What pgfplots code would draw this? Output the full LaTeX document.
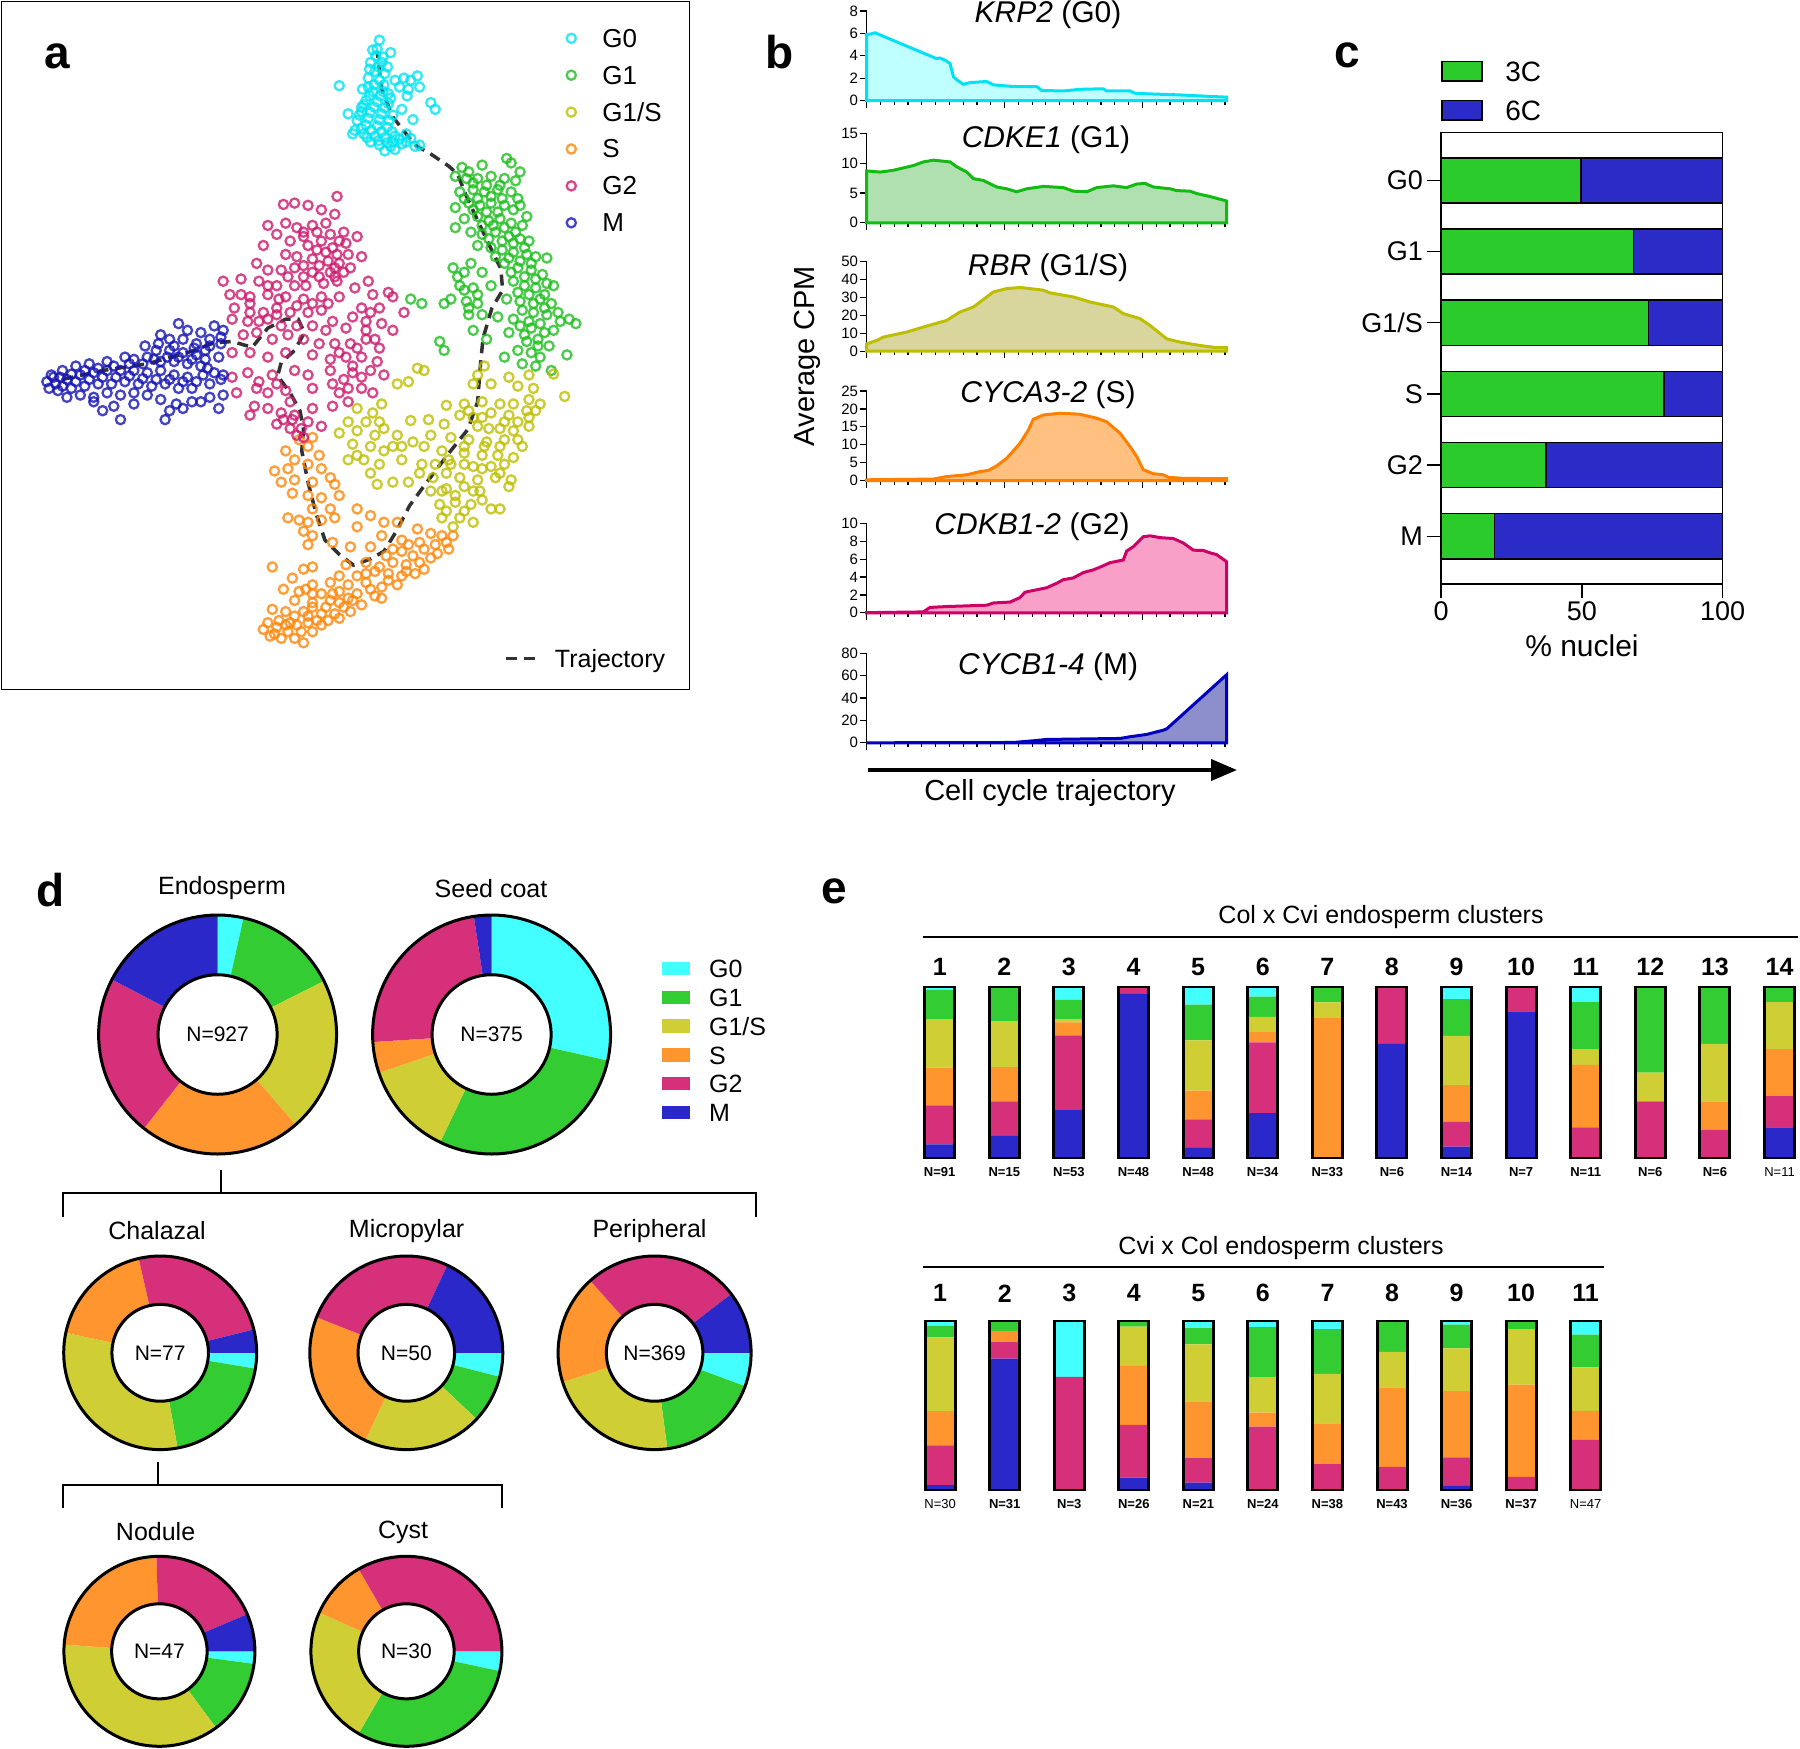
\documentclass[border=0pt]{standalone}
\usepackage{fontspec}
\setmainfont{Liberation Sans}
\usepackage{pgfplots}
\pgfplotsset{compat=1.18}
\usetikzlibrary{arrows.meta}
\newcommand\fs[1]{\fontsize{#1}{#1}\selectfont}
\definecolor{aG0}{RGB}{0,228,240}
\definecolor{aG1}{RGB}{30,190,30}
\definecolor{aGS}{RGB}{190,190,0}
\definecolor{aS}{RGB}{255,135,10}
\definecolor{aG2}{RGB}{205,25,110}
\definecolor{aM}{RGB}{20,20,180}
\definecolor{traj}{RGB}{50,50,50}
\definecolor{dG0}{RGB}{68,255,255}
\definecolor{dG1}{RGB}{51,204,51}
\definecolor{dGS}{RGB}{207,207,53}
\definecolor{dS}{RGB}{255,149,46}
\definecolor{dG2}{RGB}{214,48,122}
\definecolor{dM}{RGB}{42,40,200}
\definecolor{cGr}{RGB}{43,203,43}
\definecolor{cBl}{RGB}{43,43,200}
\definecolor{l1}{RGB}{0,225,245}\definecolor{f1}{RGB}{192,255,255}
\definecolor{l2}{RGB}{17,187,17}\definecolor{f2}{RGB}{176,224,176}
\definecolor{l3}{RGB}{190,190,0}\definecolor{f3}{RGB}{216,214,156}
\definecolor{l4}{RGB}{255,128,0}\definecolor{f4}{RGB}{255,192,128}
\definecolor{l5}{RGB}{204,0,102}\definecolor{f5}{RGB}{248,160,200}
\definecolor{l6}{RGB}{0,0,190}\definecolor{f6}{RGB}{140,143,204}
\pgfplotsset{
 /pgf/number format/assume math mode=true,
 bax/.style={anchor=north west, scale only axis, width=360pt, height=89.5pt, xmin=0, xmax=261.2, ymin=0,
  axis x line*=bottom, axis y line*=left, axis line style={line width=1.3pt},
  every outer x axis line/.append style={-}, every outer y axis line/.append style={-},
  tick style={line width=1.2pt, black}, tick align=outside, xtick={0,100,200},
  minor xtick={10,20,...,260}, xticklabels={}, major tick length=7pt, minor tick length=4pt,
  yticklabel style={font=\fs{15}, inner sep=1.5pt}, clip=false},
 donut/.style={anchor=center, scale only axis, hide axis, xmin=-1, xmax=1, ymin=-1, ymax=1, clip=false},
 sc/.style={only marks, mark=o, mark size=4.6pt, line width=2.3pt, opacity=0.8},
 eax/.style={anchor=north west, scale only axis, ymin=0, ymax=100, axis line style={draw=none}, ytick=\empty, major tick length=0pt},
}
\newcommand\wdg[3]{\addplot[fill=#1, draw=none, domain=#2:#3, samples=60] ({sin(x)},{cos(x)}) -- (axis cs:0,0) -- cycle;}
\newcommand\hole{\addplot[forget plot, fill=white, draw=black, line width=3pt, domain=0:360, samples=121] ({0.5*sin(x)},{0.5*cos(x)}) -- cycle;
\addplot[forget plot, draw=black, line width=3pt, domain=0:360, samples=121] ({sin(x)},{cos(x)}) -- cycle;}
\begin{document}
\begin{tikzpicture}[x=1pt,y=1pt]
\path[use as bounding box] (0,0) rectangle (1800,-1749);
% ================= panel a
\begin{axis}[at={(1.3pt,-1.3pt)}, anchor=north west, scale only axis, width=688.4pt, height=688.4pt,
 xmin=3, xmax=1545, ymin=3, ymax=1545, y dir=reverse, xtick=\empty, ytick=\empty,
 axis line style={line width=1.5pt}, clip=false,
 legend style={at={(axis cs:1269,63)}, anchor=north west, draw=none, fill=none, inner sep=0pt,
  row sep=16.9pt, font=\fs{26}, nodes={inner sep=0pt, text height=19pt, text depth=1pt},
  /tikz/every odd column/.append style={column sep=26.5pt}},
 legend cell align=left,
 legend image code/.code={\draw[#1] plot coordinates {(0pt,0pt)};}]
\addplot[sc, aG0] coordinates {(850,90)(845,110)(835,112)(875,118)(830,140)(855,140)(840,160)(862,165)(825,175)(850,180)(885,180)(905,175)(920,180)(935,170)(940,195)(915,200)(895,195)(760,192)(812,200)(835,205)(858,205)(820,225)(845,228)(870,232)(912,215)(965,230)(975,245)(780,255)(810,250)(830,252)(855,255)(880,258)(925,268)(800,270)(820,280)(845,282)(868,285)(795,292)(790,300)(815,300)(840,305)(862,308)(885,305)(910,300)(830,318)(850,325)(875,328)(900,322)(920,310)(940,325)(862,338)(885,335)(825,195)(870,210)(810,240)(900,245)
(842,125)(858,128)(828,155)(848,150)(868,150)(838,190)(860,190)(828,215)(852,215)(875,220)(815,235)(838,240)(862,242)(805,258)(825,265)(850,268)(872,270)(810,288)(832,292)(855,295)(878,295)(822,308)(848,315)(895,312)(868,320)(910,318)(930,328)(880,318)};
\addplot[sc, aG1] coordinates {(1035,375)(1050,385)(1080,370)(1135,355)(1145,365)(1165,385)(1020,395)(1045,400)(1070,400)(1100,395)(1130,400)(1155,405)(1030,430)(1060,425)(1085,430)(1115,425)(1145,430)(1160,445)(1020,465)(1050,455)(1075,460)(1100,455)(1130,460)(1150,470)(1180,485)(1040,490)(1070,485)(1095,495)(1120,490)(1145,500)(1170,505)(1020,510)(1055,520)(1080,525)(1110,520)(1140,530)(1165,535)(1185,540)(1070,550)(1100,555)(1125,560)(1150,565)(1180,570)(1200,575)(1225,578)(1015,600)(1040,610)(1130,590)(1160,600)(1190,605)(1215,615)(1240,640)(1030,640)(1060,645)(1150,630)(1175,640)(1200,645)(1220,660)(1010,670)(1045,675)(1070,680)(1135,670)(1165,675)(1195,680)(1220,690)(1250,700)(1275,715)(1290,725)(995,680)(920,670)(945,680)(1050,705)(1080,705)(1115,710)(1150,715)(1185,720)(1210,725)(1240,740)(1060,740)(1140,745)(1175,750)(1205,760)(1230,775)(1270,795)(985,765)(1160,785)(1190,790)(1210,800)(1130,800)(1170,815)(1200,820)(1235,830)(1090,760)(995,785)
(1060,410)(1090,415)(1120,415)(1040,445)(1070,445)(1100,440)(1125,445)(1060,470)(1090,475)(1115,475)(1165,460)(1080,505)(1105,505)(1130,510)(1155,520)(1095,535)(1125,540)(1150,545)(1175,555)(1110,575)(1140,578)(1165,585)(1190,590)(1145,610)(1175,620)(1200,625)(1225,635)(1160,655)(1185,660)(1210,670)(1235,680)(1170,695)(1195,700)(1225,705)(1255,720)(1165,730)(1190,735)(1220,745)(1180,765)(1205,775)(1050,690)(1070,660)(1040,650)(1025,620)(1055,590)(1080,610)(1100,640)};
\addplot[sc, aGS] coordinates {(935,825)(950,830)(1085,820)(1070,840)(1140,845)(1185,840)(1240,838)(890,860)(915,855)(1060,860)(1100,860)(1160,865)(1195,870)(1265,888)(855,905)(1000,908)(1040,905)(1080,900)(1120,905)(1150,905)(1185,895)(1210,905)(800,915)(835,925)(960,940)(1030,930)(1060,935)(1100,925)(1140,930)(1180,920)(780,945)(820,945)(850,945)(920,942)(995,950)(1070,955)(1120,960)(1150,965)(1185,955)(760,970)(800,965)(840,975)(890,975)(925,990)(965,975)(1010,980)(1050,985)(1090,990)(1130,985)(1160,985)(790,995)(830,1000)(860,1010)(900,1000)(950,1000)(990,1010)(1040,1015)(1080,1020)(1115,1020)(1150,1025)(780,1030)(815,1030)(850,1040)(900,1030)(945,1040)(1010,1040)(1060,1045)(1100,1045)(1130,1040)(940,1060)(970,1070)(1000,1060)(1030,1070)(1070,1075)(1110,1070)(1145,1075)(845,1085)(880,1080)(915,1080)(965,1100)(1000,1095)(1040,1090)(1075,1100)(1140,1090)(985,1130)(1020,1125)(1055,1130)(1100,1140)(1120,1140)(990,1160)(1030,1160)(1060,1170)(1015,1180)(1040,1145)(1000,1145)
(1050,920)(1080,935)(1130,945)(1160,945)(1185,935)(1200,920)(1095,960)(1170,1000)(1120,1000)(1085,1000)(1040,1000)(1005,1030)(975,1040)(1040,1040)(1080,1050)(1120,1060)(1060,1100)(1020,1110)(1080,1120)(990,1100)(860,960)(880,1000)(800,1020)(830,1060)};
\addplot[sc, aS] coordinates {(670,985)(700,980)(690,1000)(640,1010)(715,1020)(660,1030)(690,1040)(615,1055)(645,1050)(720,1050)(740,1070)(630,1080)(660,1075)(700,1080)(750,1085)(655,1105)(690,1110)(720,1115)(760,1110)(740,1140)(700,1140)(645,1160)(670,1165)(690,1170)(720,1165)(750,1160)(800,1140)(830,1155)(860,1170)(890,1170)(800,1180)(680,1190)(700,1200)(690,1220)(745,1215)(785,1225)(830,1225)(855,1200)(900,1210)(935,1185)(965,1195)(990,1200)(1015,1200)(610,1270)(680,1275)(700,1270)(775,1265)(820,1260)(865,1245)(900,1235)(925,1245)(950,1230)(975,1220)(1000,1215)(880,1260)(910,1265)(940,1260)(965,1250)(760,1290)(800,1290)(840,1280)(870,1285)(900,1290)(930,1285)(655,1295)(700,1310)(740,1305)(780,1310)(820,1305)(855,1315)(890,1310)(635,1320)(670,1325)(720,1330)(760,1325)(800,1330)(840,1335)(660,1345)(700,1350)(740,1345)(770,1360)(810,1355)(855,1340)(610,1365)(640,1370)(680,1370)(720,1375)(760,1385)(600,1395)(625,1390)(650,1395)(690,1395)(720,1400)(590,1410)(615,1420)(645,1415)(675,1415)(700,1415)(630,1430)(660,1430)(680,1440)(605,1425)(750,1375)(785,1370)
(620,1405)(640,1400)(665,1400)(690,1380)(710,1390)(735,1390)(660,1380)(700,1360)(730,1360)(760,1350)(790,1345)(830,1320)(870,1300)(910,1280)(950,1275)(980,1240)(1005,1230)(940,1215)(915,1220)(880,1230)(850,1270)(820,1285)(780,1340)(745,1330)(700,1330)(685,1320)};
\addplot[sc, aG2] coordinates {(635,458)(660,455)(690,460)(755,440)(720,470)(750,480)(600,505)(640,500)(665,510)(700,505)(730,500)(770,520)(800,530)(620,525)(590,550)(650,540)(690,550)(720,540)(745,555)(775,545)(810,575)(640,570)(665,575)(700,580)(735,585)(760,590)(575,590)(600,605)(630,605)(660,600)(700,610)(740,610)(770,610)(500,630)(540,625)(580,630)(620,640)(660,640)(685,640)(725,635)(755,630)(825,630)(795,645)(515,660)(560,665)(600,660)(640,665)(680,670)(720,665)(760,665)(835,660)(870,655)(880,665)(525,690)(560,700)(590,700)(620,690)(650,700)(690,700)(720,695)(810,690)(850,690)(905,700)(520,715)(555,720)(600,715)(630,730)(665,730)(700,730)(730,740)(775,735)(820,720)(855,725)(880,740)(545,750)(575,745)(610,760)(645,750)(680,760)(715,770)(750,770)(785,770)(820,760)(850,780)(520,790)(560,790)(600,800)(640,790)(700,795)(740,805)(775,800)(810,800)(845,810)(520,845)(555,835)(580,855)(610,840)(660,830)(690,840)(740,830)(790,835)(830,830)(860,840)(530,880)(575,870)(640,875)(700,870)(745,860)(780,870)(810,870)(835,880)(570,910)(600,915)(630,925)(660,930)(700,915)(745,910)(780,900)(620,950)(650,960)(665,975)(690,945)(720,955)(560,930)
(680,520)(710,520)(740,525)(760,540)(680,530)(710,560)(730,565)(755,570)(780,570)(680,595)(715,595)(750,600)(785,600)(645,620)(680,620)(715,620)(750,620)(600,640)(625,670)(665,685)(700,680)(735,680)(560,680)(540,660)(580,720)(620,705)(745,720)(790,710)(830,700)(820,740)(840,760)(800,780)(760,790)(790,820)(810,845)(770,850)(760,880)(620,860)(600,880)(650,900)(635,940)(655,940)(675,960)(680,980)};
\addplot[sc, aM] coordinates {(400,725)(420,740)(450,745)(480,730)(500,740)(360,750)(380,760)(410,760)(440,770)(470,760)(495,770)(325,775)(350,785)(380,785)(410,790)(440,795)(460,785)(280,800)(300,805)(330,800)(360,810)(390,810)(420,815)(450,820)(240,810)(200,815)(170,820)(140,830)(115,840)(105,855)(125,860)(150,850)(180,840)(210,835)(240,830)(270,830)(300,830)(330,835)(360,830)(390,840)(420,845)(455,840)(480,835)(500,840)(130,875)(160,870)(190,865)(220,860)(250,860)(280,855)(310,860)(340,865)(370,860)(400,870)(430,870)(470,860)(495,850)(150,890)(180,885)(210,890)(240,880)(270,885)(300,880)(330,885)(360,895)(395,905)(430,900)(470,890)(500,885)(210,900)(255,910)(300,905)(380,920)(410,915)(450,900)(490,915)(270,940)(370,940)(230,920)
(120,845)(135,845)(160,838)(190,830)(220,825)(255,820)(290,815)(320,815)(345,805)(375,800)(400,800)(430,805)(460,805)(490,800)(110,870)(140,865)(170,855)(200,850)(230,845)(260,845)(290,842)(320,848)(350,850)(380,850)(410,855)(440,855)(465,825)(435,780)(470,775)(495,755)(390,775)(355,770)};
\addplot[forget plot, traj, line width=3.5pt, dash pattern=on 11pt off 7pt] coordinates {(140,850)(230,830)(330,815)(420,790)(480,768)(520,765)(565,778)(600,735)(640,715)(668,715)(682,745)(660,785)(630,812)(622,842)(650,880)(672,920)(680,962)(676,1010)(690,1080)(708,1150)(728,1210)(760,1242)(792,1266)(830,1252)(860,1235)(888,1190)(918,1132)(960,1075)(1008,1012)(1048,962)(1070,900)(1076,820)(1082,758)(1102,690)(1126,650)(1122,602)(1094,545)(1066,485)(1045,440)(1025,390)(1005,372)(965,345)(930,325)(910,300)(880,262)(855,200)(845,115)};
\legend{G0,G1,G1/S,S,G2,M}
\end{axis}
\begin{axis}[at={(1.3pt,-1.3pt)}, anchor=north west, scale only axis, width=688.4pt, height=688.4pt,
 xmin=3, xmax=1545, ymin=3, ymax=1545, y dir=reverse, hide axis,
 legend style={at={(axis cs:1130,1452.7)}, anchor=north west, draw=none, fill=none, inner sep=0pt,
  font=\fs{25}, nodes={inner sep=0pt, text height=19pt, text depth=1pt},
  /tikz/every odd column/.append style={column sep=17.8pt}},
 legend image code/.code={\draw[#1] (0pt,0pt) -- (29pt,0pt);}]
\addlegendimage{traj, line width=3.5pt, dash pattern=on 11pt off 7pt}
\addlegendentry{Trajectory}
\end{axis}
\node[font=\bfseries\fs{46}] at (57,-56) {a};
% ================= panel b
\begin{axis}[bax, at={(866.7pt,-11pt)}, ymax=8, ytick={0,2,4,6,8}]
\addplot[draw=l1, line width=3pt, fill=f1] coordinates {(0,5.9)(3,5.95)(6,6.05)(9,5.9)(20,5.33)(30,4.81)(40,4.3)(50.8,3.74)(53,3.8)(57,3.6)(60.5,3.3)(61.7,2.7)(63,2.1)(66,1.8)(70.1,1.45)(75,1.6)(87,1.7)(91.9,1.4)(106.4,1.25)(123.3,1.25)(127,0.9)(142.7,0.85)(154.8,1.0)(171.7,1.05)(174.1,0.85)(191,0.85)(194.7,0.65)(203,0.6)(227,0.5)(246.7,0.38)(261.2,0.3)} \closedcycle;
\end{axis}
\begin{axis}[bax, at={(866.7pt,-133.3pt)}, ymax=15, ytick={0,5,10,15}]
\addplot[draw=l2, line width=3pt, fill=f2] coordinates {(0,8.7)(9.7,8.5)(19.3,8.8)(33.9,9.6)(41.1,10.2)(48.4,10.5)(60.5,10.2)(65.3,9.4)(72.6,8.5)(77.4,7.4)(84.6,7.1)(94.3,6.0)(101.6,5.7)(108.8,5.2)(116.1,5.7)(128.2,6.1)(142.7,5.9)(149.9,5.3)(159.6,5.2)(166.9,5.9)(179,6.2)(188.6,5.9)(195.9,6.5)(201.9,6.6)(208,6.0)(220.1,5.7)(224.9,5.4)(234.6,5.3)(239.4,4.9)(249.1,4.4)(261.2,3.65)} \closedcycle;
\end{axis}
\begin{axis}[bax, at={(866.7pt,-261.7pt)}, ymax=50, ytick={0,10,20,30,40,50}]
\addplot[draw=l3, line width=3pt, fill=f3] coordinates {(0,4.1)(7.3,6)(12.1,7.9)(29,10.7)(41.1,13.5)(58,17.2)(67.7,21.9)(77.4,24.7)(91.9,33.1)(101.6,35)(111.2,35.6)(128.2,34.1)(133,32.6)(149.9,30.3)(162,27.5)(179,24.7)(186.2,21)(198.3,18.2)(205.6,14.4)(217.7,6.9)(227.3,5.1)(241.8,3.2)(251.5,2.2)(261.2,2.2)} \closedcycle;
\end{axis}
\begin{axis}[bax, at={(866.7pt,-391pt)}, ymax=25, ytick={0,5,10,15,20,25}]
\addplot[draw=l4, line width=3pt, fill=f4] coordinates {(0,0.2)(48.4,0.4)(58,1.1)(72.6,1.6)(82.2,2.5)(88.3,2.8)(94.3,4.1)(101.6,6.2)(111.2,10.4)(117.3,14.1)(120.9,17.1)(128.2,18.3)(140.3,18.8)(154.8,18.5)(166.9,17.4)(174.1,16.4)(183.8,13.2)(191,9.5)(195.9,6.7)(200.7,3.0)(208,1.9)(215.2,1.6)(218.9,0.9)(229.7,0.6)(261.2,0.5)} \closedcycle;
\end{axis}
\begin{axis}[bax, at={(866.7pt,-523.3pt)}, ymax=10, ytick={0,2,4,6,8,10}]
\addplot[draw=l5, line width=3pt, fill=f5] coordinates {(0,0.02)(41.1,0.1)(45.9,0.6)(58,0.7)(87.1,0.85)(91.9,1.1)(104,1.2)(111.2,1.7)(114.9,2.3)(120.9,2.5)(130.6,2.8)(137.8,3.3)(142.7,3.7)(149.9,3.9)(157.2,4.5)(164.4,4.8)(169.3,5.1)(176.5,5.6)(186.2,5.9)(188.6,6.9)(193.5,7.4)(200.7,8.5)(205.6,8.6)(212.8,8.4)(222.5,8.3)(229.7,7.8)(237,7.0)(244.3,6.96)(249.1,6.7)(253.9,6.5)(261.2,5.7)} \closedcycle;
\end{axis}
\begin{axis}[bax, at={(866.7pt,-653.3pt)}, ymax=80, ytick={0,20,40,60,80}]
\addplot[draw=l6, line width=3pt, fill=f6] coordinates {(0,0)(106.4,0.3)(120.9,1.8)(130.6,3)(183.8,3.9)(191,5.4)(203.1,7.5)(215.2,11.3)(217.7,12.5)(261.2,60.9)} \closedcycle;
\end{axis}
\begin{scope}[font=\fs{30}]
\node at (1048,-15) {\textit{KRP2} (G0)};
\node at (1046,-140) {\textit{CDKE1} (G1)};
\node at (1048,-268) {\textit{RBR} (G1/S)};
\node at (1048,-395) {\textit{CYCA3-2} (S)};
\node at (1032,-527) {\textit{CDKB1-2} (G2)};
\node at (1048,-667) {\textit{CYCB1-4} (M)};
\end{scope}
\node[rotate=90, font=\fs{29}] at (807,-356) {Average CPM};
\draw[line width=4pt, -{Triangle[length=26pt, width=21pt]}] (868,-770) -- (1237,-770);
\node[font=\fs{29}] at (1050,-793) {Cell cycle trajectory};
\node[font=\bfseries\fs{46}] at (779.5,-52) {b};
% ================= panel c
\begin{axis}[at={(1441pt,-132.8pt)}, anchor=north west, scale only axis, width=281.7pt, height=451.1pt,
 xmin=0, xmax=100, ymin=-0.67, ymax=5.67, xbar stacked, bar width=45.2pt,
 ytick={0,1,2,3,4,5}, yticklabels={M,G2,S,G1/S,G1,G0}, xtick={0,50,100},
 tick pos=left, tick align=outside, major tick length=14.5pt,
 tick style={line width=1.3pt, black}, axis line style={line width=1.3pt},
 tick label style={font=\fs{27}},
 every axis plot post/.append style={legend image code/.code={\draw[#1] (0pt,-9.8pt) rectangle (40pt,9.8pt);}},
 legend style={at={(axis cs:0.09,6.684)}, anchor=north west, draw=none, fill=none, inner sep=0pt,
  row sep=17.6pt, font=\fs{28}, nodes={inner sep=0pt, text height=20.5pt, text depth=0pt},
  /tikz/every odd column/.append style={column sep=22.3pt}},
 legend cell align=left]
\addplot[fill=cGr, draw=black, line width=1.5pt] coordinates {(18.9,0) (37.2,1) (79.2,2) (73.7,3) (68.3,4) (49.7,5)};
\addlegendentry{3C}
\addplot[fill=cBl, draw=black, line width=1.5pt] coordinates {(81.1,0) (62.8,1) (20.8,2) (26.3,3) (31.7,4) (50.3,5)};
\addlegendentry{6C}
\end{axis}
\node[font=\fs{30}] at (1582,-646) {\% nuclei};
\node[font=\bfseries\fs{46}] at (1347,-55) {c};
% ================= panel d
\begin{axis}[donut, at={(217.6pt,-1034.5pt)}, width=238pt, height=239pt]
\wdg{dG0}{0}{12.6}\wdg{dG1}{12.6}{63.4}\wdg{dGS}{63.4}{139}\wdg{dS}{139}{218.2}\wdg{dG2}{218.2}{297.4}\wdg{dM}{297.4}{360}
\hole
\node[font=\fs{21}] at (axis cs:0,0) {N=927};
\end{axis}
\begin{axis}[donut, at={(491.6pt,-1034.5pt)}, width=238pt, height=239pt,
 legend style={at={(axis cs:1.4294,0.630)}, anchor=north west, draw=none, fill=none, inner sep=0pt,
  row sep=10.6pt, font=\fs{25}, nodes={inner sep=0pt, text height=18.2pt, text depth=0pt},
  /tikz/every odd column/.append style={column sep=19.2pt}},
 legend cell align=left,
 legend image code/.code={\path[#1] (0pt,-6.65pt) rectangle (28pt,6.65pt);}]
\wdg{dG0}{0}{102.6}\wdg{dG1}{102.6}{205.6}\wdg{dGS}{205.6}{251.3}\wdg{dS}{251.3}{266.4}\wdg{dG2}{266.4}{351.4}\wdg{dM}{351.4}{360}
\hole
\node[font=\fs{21}] at (axis cs:0,0) {N=375};
\legend{G0,G1,G1/S,S,G2,M}
\end{axis}
\begin{axis}[donut, at={(160.2pt,-1352.8pt)}, width=193pt, height=193.6pt]
\wdg{dG0}{90}{99.4}\wdg{dG1}{99.4}{169.6}\wdg{dGS}{169.6}{281.9}\wdg{dS}{281.9}{347.1}\wdg{dG2}{347.1}{436}\wdg{dM}{436}{450}
\hole
\node[font=\fs{21}] at (axis cs:0,0) {N=77};
\end{axis}
\begin{axis}[donut, at={(406.3pt,-1352.8pt)}, width=193pt, height=193.6pt]
\wdg{dG0}{90}{104.4}\wdg{dG1}{104.4}{133.2}\wdg{dGS}{133.2}{205.2}\wdg{dS}{205.2}{291.6}\wdg{dG2}{291.6}{385.2}\wdg{dM}{385.2}{450}
\hole
\node[font=\fs{21}] at (axis cs:0,0) {N=50};
\end{axis}
\begin{axis}[donut, at={(654.6pt,-1352.8pt)}, width=193pt, height=193.6pt]
\wdg{dG0}{90}{110.2}\wdg{dG1}{110.2}{172.4}\wdg{dGS}{172.4}{252.4}\wdg{dS}{252.4}{318.2}\wdg{dG2}{318.2}{412.6}\wdg{dM}{412.6}{450}
\hole
\node[font=\fs{21}] at (axis cs:0,0) {N=369};
\end{axis}
\begin{axis}[donut, at={(159.4pt,-1651.3pt)}, width=191pt, height=190pt]
\wdg{dG0}{90}{97.6}\wdg{dG1}{97.6}{143.6}\wdg{dGS}{143.6}{274}\wdg{dS}{274}{358.2}\wdg{dG2}{358.2}{427}\wdg{dM}{427}{450}
\hole
\node[font=\fs{21}] at (axis cs:0,0) {N=47};
\end{axis}
\begin{axis}[donut, at={(406.4pt,-1651.3pt)}, width=191pt, height=190pt]
\wdg{dG0}{90}{102}\wdg{dG1}{102}{210}\wdg{dGS}{210}{294}\wdg{dS}{294}{330}\wdg{dG2}{330}{450}
\hole
\node[font=\fs{21}] at (axis cs:0,0) {N=30};
\end{axis}
\begin{scope}[font=\fs{25}]
\node at (222,-888.3) {Endosperm};
\node at (491,-888.3) {Seed coat};
\node at (157,-1230.8) {Chalazal};
\node at (406.6,-1230.8) {Micropylar};
\node at (649.5,-1230.8) {Peripheral};
\node at (155.6,-1532) {Nodule};
\node at (403,-1532) {Cyst};
\end{scope}
\draw[line width=2pt] (221,-1170) -- (221,-1192.7);
\draw[line width=2pt] (62.8,-1216.7) -- (62.8,-1192.7) -- (756.1,-1192.7) -- (756.1,-1216.7);
\draw[line width=2pt] (158,-1461.9) -- (158,-1485.4);
\draw[line width=2pt] (62.8,-1508.1) -- (62.8,-1485.4) -- (501.5,-1485.4) -- (501.5,-1508.1);
\node[font=\bfseries\fs{46}] at (51,-890) {d};
% ================= panel e
\begin{axis}[eax, at={(907.4pt,-986.7pt)}, width=904.4pt, height=172pt, xmin=0.5, xmax=14.5,
 ybar stacked, bar width=30pt, xtick={1,...,14},
 xticklabels={\textbf{N=91},\textbf{N=15},\textbf{N=53},\textbf{N=48},\textbf{N=48},\textbf{N=34},\textbf{N=33},\textbf{N=6},\textbf{N=14},\textbf{N=7},\textbf{N=11},\textbf{N=6},\textbf{N=6},N=11},
 xticklabel style={anchor=center, yshift=-13pt, font=\fs{13}}]
\addplot[fill=dM, draw=none] coordinates {(1,8.3)(2,13.3)(3,28.3)(4,95.8)(5,6.25)(6,26.5)(7,0)(8,66.7)(9,7.1)(10,85.7)(11,0)(12,0)(13,0)(14,18.2)};
\addplot[fill=dG2, draw=none] coordinates {(1,22.7)(2,20)(3,43.4)(4,4.2)(5,16.67)(6,41.2)(7,0)(8,33.3)(9,14.3)(10,14.3)(11,18.2)(12,33.3)(13,16.7)(14,18.2)};
\addplot[fill=dS, draw=none] coordinates {(1,21.9)(2,20)(3,7.5)(4,0)(5,16.67)(6,5.9)(7,81.8)(8,0)(9,21.4)(10,0)(11,36.4)(12,0)(13,16.7)(14,27.3)};
\addplot[fill=dGS, draw=none] coordinates {(1,28.3)(2,26.7)(3,1.9)(4,0)(5,29.17)(6,8.8)(7,9.1)(8,0)(9,28.6)(10,0)(11,9.1)(12,16.7)(13,33.3)(14,27.3)};
\addplot[fill=dG1, draw=none] coordinates {(1,16.9)(2,20)(3,11.3)(4,0)(5,20.83)(6,11.8)(7,9.1)(8,0)(9,21.4)(10,0)(11,27.3)(12,50)(13,33.3)(14,9.1)};
\addplot[fill=dG0, draw=none] coordinates {(1,1.9)(2,0)(3,7.5)(4,0)(5,10.42)(6,5.9)(7,0)(8,0)(9,7.1)(10,0)(11,9.1)(12,0)(13,0)(14,0)};
\end{axis}
\begin{axis}[eax, at={(907.4pt,-986.7pt)}, width=904.4pt, height=172pt, xmin=0.5, xmax=14.5,
 ybar, bar width=30pt, xtick={1,...,14}, xticklabel pos=right,
 xticklabel style={anchor=center, yshift=20pt, font=\bfseries\fs{25}}]
\addplot[fill=none, draw=black, line width=3pt] coordinates {(1,100)(2,100)(3,100)(4,100)(5,100)(6,100)(7,100)(8,100)(9,100)(10,100)(11,100)(12,100)(13,100)(14,100)};
\end{axis}
\begin{axis}[eax, at={(907.9pt,-1320pt)}, width=710pt, height=170.7pt, xmin=0.5, xmax=11.5,
 ybar stacked, bar width=30pt, xtick={1,...,11},
 xticklabels={N=30,\textbf{N=31},\textbf{N=3},\textbf{N=26},\textbf{N=21},\textbf{N=24},\textbf{N=38},\textbf{N=43},\textbf{N=36},\textbf{N=37},N=47},
 xticklabel style={anchor=center, yshift=-13.3pt, font=\fs{13}}]
\addplot[fill=dM, draw=none] coordinates {(1,3.3)(2,77.4)(3,0)(4,7.7)(5,4.8)(6,0)(7,0)(8,0)(9,2.8)(10,0)(11,0)};
\addplot[fill=dG2, draw=none] coordinates {(1,23.3)(2,9.7)(3,66.7)(4,30.8)(5,14.3)(6,37.5)(7,15.8)(8,14)(9,16.7)(10,8.1)(11,29.8)};
\addplot[fill=dS, draw=none] coordinates {(1,20)(2,6.5)(3,0)(4,34.6)(5,33.3)(6,8.3)(7,23.7)(8,46.5)(9,38.9)(10,54.1)(11,17)};
\addplot[fill=dGS, draw=none] coordinates {(1,43.3)(2,0)(3,0)(4,23.1)(5,33.3)(6,20.8)(7,28.9)(8,20.9)(9,25)(10,32.4)(11,25.5)};
\addplot[fill=dG1, draw=none] coordinates {(1,6.7)(2,6.5)(3,0)(4,3.8)(5,9.5)(6,29.2)(7,26.3)(8,18.6)(9,13.9)(10,5.4)(11,19.1)};
\addplot[fill=dG0, draw=none] coordinates {(1,3.3)(2,0)(3,33.3)(4,0)(5,4.8)(6,4.2)(7,5.3)(8,0)(9,2.8)(10,0)(11,8.5)};
\end{axis}
\begin{axis}[eax, at={(907.9pt,-1320pt)}, width=710pt, height=170.7pt, xmin=0.5, xmax=11.5,
 ybar, bar width=30pt, xtick={1,...,11}, xticklabel pos=right,
 xticklabel style={anchor=center, yshift=26.7pt, font=\bfseries\fs{25}}]
\addplot[fill=none, draw=black, line width=3pt] coordinates {(1,100)(2,100)(3,100)(4,100)(5,100)(6,100)(7,100)(8,100)(9,100)(10,100)(11,100)};
\end{axis}
\node[font=\fs{25}] at (1381,-916.7) {Col x Cvi endosperm clusters};
\draw[line width=2pt] (923,-937.3) -- (1798,-937.3);
\node[font=\fs{25}] at (1281,-1248.3) {Cvi x Col endosperm clusters};
\draw[line width=2pt] (923,-1266.7) -- (1603.9,-1266.7);
\node[font=\bfseries\fs{46}] at (834.6,-891) {e};
\end{tikzpicture}
\end{document}
